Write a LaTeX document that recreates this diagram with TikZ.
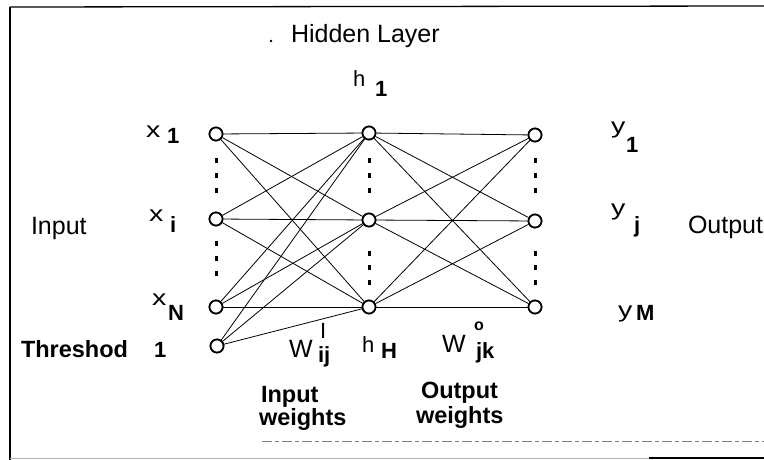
\documentclass[tikz,border=0pt]{standalone}
\usepackage{fontspec}
\usepackage{graphicx}
\setmainfont{Liberation Sans}
\newcommand\wideletter[1]{\scalebox{1.3}[1]{#1}}
\begin{document}
\begin{tikzpicture}[x=1pt,y=-1pt,
  neuron/.style={circle,draw,line width=1.7pt,fill=white,minimum size=13pt,inner sep=0pt},
  conn/.style={line width=0.8pt},
  dotmark/.style={line width=3pt},
  txt/.style={anchor=base west,inner sep=0pt,outer sep=0pt},
  big/.style={txt,font=\fontsize{25}{25}\selectfont},
  bigb/.style={txt,font=\fontsize{23.5}{23.5}\selectfont\bfseries},
  let/.style={txt,font=\fontsize{22}{22}\selectfont},
  wlet/.style={txt,font=\fontsize{25}{25}\selectfont},
  sub/.style={txt,font=\fontsize{22}{22}\selectfont\bfseries},
  frame/.style={line width=1.3pt}
]
\useasboundingbox (0,0) rectangle (764,460);

% frame
\draw[frame] (10,7) -- (764,6);
\draw[frame] (10,7) -- (10,460);
\draw[line width=0.8pt,gray,dash pattern=on 10pt off 3pt on 4pt off 3pt] (262,441) -- (764,441);
\draw[line width=0.6pt,gray!60] (10,458) -- (649,458);
\draw[line width=1.6pt] (649,458) -- (764,458);

% neurons
\node[neuron] (x1) at (216,134) {};
\node[neuron] (xi) at (216,219) {};
\node[neuron] (xN) at (216,307) {};
\node[neuron] (x0) at (217,346) {};
\node[neuron] (h1) at (369,133) {};
\node[neuron] (hj) at (369,220) {};
\node[neuron] (hH) at (369,307) {};
\node[neuron] (y1) at (535,135) {};
\node[neuron] (yj) at (535,221) {};
\node[neuron] (yM) at (535,307) {};

% input -> hidden
\foreach \a in {x1,xi,xN,x0}
  \foreach \b in {h1,hj,hH}
    \draw[conn] (\a) -- (\b);
% hidden -> output
\foreach \a in {h1,hj,hH}
  \foreach \b in {y1,yj,yM}
    \draw[conn] (\a) -- (\b);

% redraw neurons on top
\foreach \n/\px/\py in {x1/216/134,xi/216/219,xN/216/307,x0/217/346,h1/369/133,hj/369/220,hH/369/307,y1/535/135,yj/535/221,yM/535/307}
  \node[neuron] (\n top) at (\px,\py) {};

% vertical dots
\foreach \cx in {216,369,535}{
  \foreach \cy in {158,173,188}
    \draw[dotmark] (\cx,\cy) -- (\cx,\cy+5);
}
\foreach \cy in {241,256,271}
  \draw[dotmark] (216,\cy) -- (216,\cy+5);
\foreach \cx in {369,535}{
  \foreach \cy in {251,265,280}
    \draw[dotmark] (\cx,\cy) -- (\cx,\cy+5);
}

% titles
\fill (271,41) circle (1.3pt);
\node[big] (hidden) at (291,43) {Hidden Layer};
\node[big] (inp) at (31,234) {Input};
\node[big] (outp) at (688,233) {Output};
\node[bigb] (thr) at (21,357) {Threshod};
\node[bigb] (iw1) at (261,402) {Input};
\node[bigb] (iw2) at (259,425) {weights};
\node[bigb] (ow1) at (421,398) {Output};
\node[bigb] (ow2) at (416,423) {weights};

% input labels
\node[let] (lx1) at (146,137) {\wideletter{x}};
\node[sub] (lx1s) at (167,143) {1};
\node[let] (lxi) at (149,221) {\wideletter{x}};
\node[sub] (lxis) at (170,232) {i};
\node[let] (lxN) at (152,305) {\wideletter{x}};
\node[sub] (lxNs) at (168,320) {N};
\node[sub] (lone) at (154,357) {1};

% hidden labels
\node[let] (lh1) at (353,87) {h};
\node[sub] (lh1s) at (375,96) {1};
\node[let] (lhH) at (362,352) {h};
\node[sub] (lhHs) at (381,358) {H};

% output labels
\node[let] (ly1) at (611,133) {\wideletter{y}};
\node[sub] (ly1s) at (626,152) {1};
\node[let] (lyj) at (611,215) {\wideletter{y}};
\node[sub] (lyjs) at (634,232) {j};
\node[let] (lyM) at (618,317) {\wideletter{y}};
\node[sub] (lyMs) at (636,320) {M};

% weights
\node[wlet] (wi) at (289,357) {W};
\node[txt,font=\fontsize{22}{22}\selectfont] (wisup) at (320,338) {I};
\node[sub] (wisub) at (318,362) {ij};
\node[wlet] (wo) at (442,352) {W};
\node[txt,font=\fontsize{16}{16}\selectfont\bfseries] (wosup) at (474,330) {o};
\node[sub] (wosub) at (476,358) {jk};
\end{tikzpicture}
\end{document}
